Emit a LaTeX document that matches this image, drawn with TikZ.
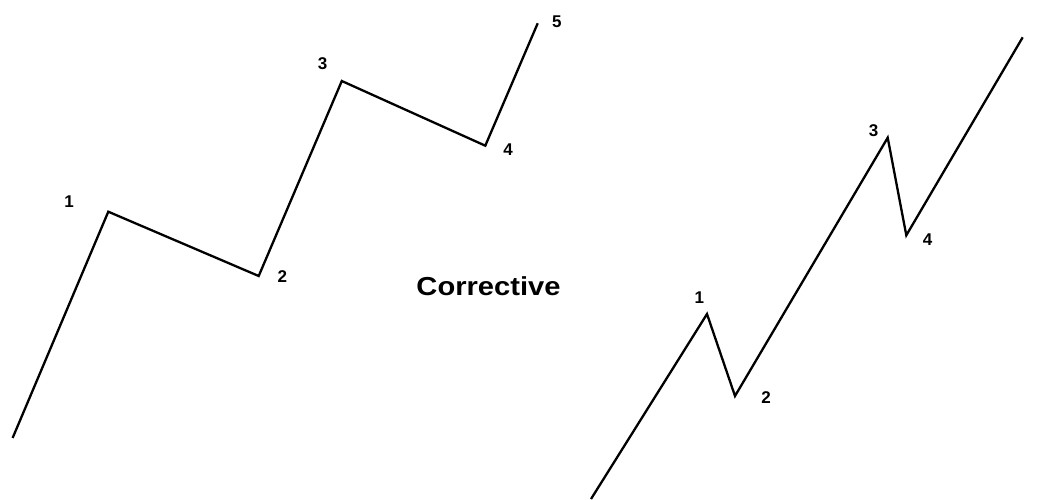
\documentclass[tikz,border=0pt]{standalone}
\usepackage{fontspec}
\setmainfont{Liberation Sans}
\begin{document}
\begin{tikzpicture}[x=1pt,y=-1pt,
  wave/.style={line width=2.3pt,line join=miter,black},
  num/.style={font=\bfseries\fontsize{17}{17}\selectfont,inner sep=0pt},
  title/.style={font=\bfseries\fontsize{26}{26}\selectfont,inner sep=0pt}]
\useasboundingbox (0,0) rectangle (1041,500);
% left wave
\coordinate (a0) at (12.6,438);
\coordinate (a1) at (108.3,211.7);
\coordinate (a2) at (258.7,276);
\coordinate (a3) at (341.8,81);
\coordinate (a4) at (485.3,145.7);
\coordinate (a5) at (537.7,23.3);
\draw[wave] (a0) -- (a1) -- (a2) -- (a3) -- (a4) -- (a5);
\node[num] (la1) at (69,202) {1};
\node[num] (la2) at (282.4,277) {2};
\node[num] (la3) at (322.6,64) {3};
\node[num] (la4) at (508,150) {4};
\node[num] (la5) at (556.8,21.7) {5};
% right wave
\coordinate (b0) at (591,499);
\coordinate (b1) at (707,314);
\coordinate (b2) at (735,396);
\coordinate (b3) at (887.7,137.7);
\coordinate (b4) at (906.3,235.3);
\coordinate (b5) at (1022.7,37.3);
\draw[wave] (b0) -- (b1) -- (b2) -- (b3) -- (b4) -- (b5);
\node[num] (lb1) at (699.3,297.7) {1};
\node[num] (lb2) at (766,397.7) {2};
\node[num] (lb3) at (873.7,131) {3};
\node[num] (lb4) at (927.7,239.3) {4};
% title
\node[title] (t) at (488.5,286) {\scalebox{1.12}[1]{Corrective}};
\end{tikzpicture}
\end{document}
